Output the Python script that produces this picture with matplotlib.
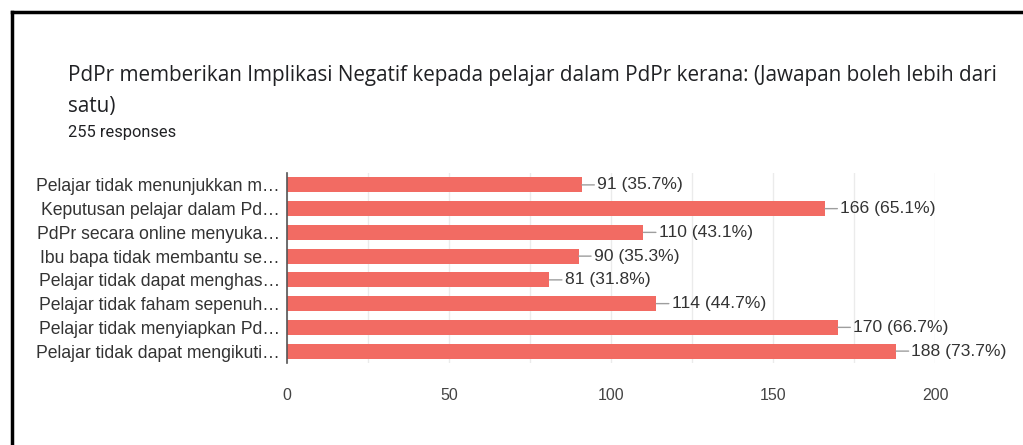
import matplotlib.pyplot as plt
from matplotlib.lines import Line2D

# survey data (Google Forms style bar chart)
labels = [
    "Pelajar tidak menunjukkan m…",
    "Keputusan pelajar dalam Pd…",
    "PdPr secara online menyuka…",
    "Ibu bapa tidak membantu se…",
    "Pelajar tidak dapat menghas…",
    "Pelajar tidak faham sepenuh…",
    "Pelajar tidak menyiapkan Pd…",
    "Pelajar tidak dapat mengikuti…",
]
counts = [91, 166, 110, 90, 81, 114, 170, 188]
percents = [35.7, 65.1, 43.1, 35.3, 31.8, 44.7, 66.7, 73.7]
x_ticks = [0, 50, 100, 150, 200]
total = 255

title = "PdPr memberikan Implikasi Negatif kepada pelajar dalam PdPr kerana: (Jawapan boleh lebih dari\nsatu)"

fig = plt.figure(figsize=(10.23, 4.45), dpi=100)
ax = fig.add_axes([0.2805, 0.1843, 0.6335, 0.4269])

ypos = list(range(len(labels)))
ax.barh(ypos, counts, height=0.64, color='#f26b63', zorder=3)

for y, c, p in zip(ypos, counts, percents):
    ax.annotate(f"{c} ({p}%)", xy=(c, y), xytext=(11, 0),
                textcoords='offset points', va='center', ha='left',
                fontsize=12.6, color='#333333', family='Liberation Sans',
                arrowprops=dict(arrowstyle='-', color='#9e9e9e', lw=1,
                                shrinkA=0, shrinkB=0))

ax.set_xlim(0, 200)
ax.set_ylim(len(labels) - 0.5, -0.5)
ax.set_yticks(ypos)
ax.set_yticklabels(labels, fontsize=12.7, color='#333333', family='Liberation Sans')
ax.set_xticks(x_ticks)
ax.set_xticklabels([str(t) for t in x_ticks], fontsize=11.5, color='#444444',
                   family='Liberation Sans')
ax.set_xticks(range(0, 201, 25), minor=True)
ax.tick_params(axis='both', length=0, which='both')
ax.tick_params(axis='x', pad=18)
ax.tick_params(axis='y', pad=5)
ax.grid(True, axis='x', which='both', color='#ebebeb', lw=1, zorder=0)
for s in ['top', 'right', 'bottom']:
    ax.spines[s].set_visible(False)
ax.spines['left'].set_color('#555555')
ax.spines['left'].set_linewidth(1.2)
ax.spines['left'].set_zorder(4)

fig.text(68 / 1023, 1 - 65 / 445, title, fontsize=14.9, color='#202124',
         family='Open Sans', va='top', ha='left', linespacing=1.6)
fig.text(68 / 1023, 1 - 133 / 445, f"{total} responses", fontsize=11.8,
         color='#202124', family='Roboto', va='center', ha='left')

# black frame on top and left
fig.add_artist(Line2D([11.5 / 1023, 1], [1 - 12 / 445, 1 - 12 / 445], color='black', lw=2.5))
fig.add_artist(Line2D([11.5 / 1023, 11.5 / 1023], [0, 1 - 12 / 445], color='black', lw=2.5))

fig.savefig('out.png', dpi=100)
